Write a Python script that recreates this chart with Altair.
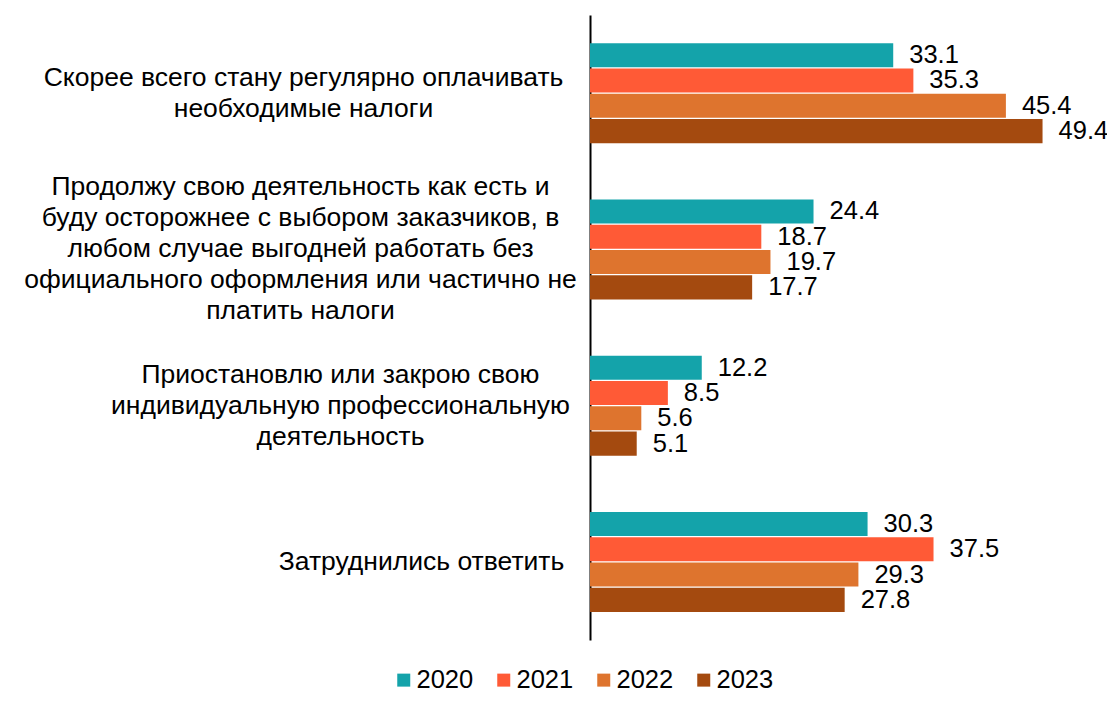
import altair as alt
import pandas as pd

categories = [
    "Скорее всего стану регулярно оплачивать|необходимые налоги",
    "Продолжу свою деятельность как есть и|буду осторожнее с выбором заказчиков, в|любом случае выгодней работать без|официального оформления или частично не|платить налоги",
    "Приостановлю или закрою свою|индивидуальную профессиональную|деятельность",
    "Затруднились ответить",
]
years = ["2020", "2021", "2022", "2023"]
v2020 = [33.1, 24.4, 12.2, 30.3]
v2021 = [35.3, 18.7, 8.5, 37.5]
v2022 = [45.4, 19.7, 5.6, 29.3]
v2023 = [49.4, 17.7, 5.1, 27.8]
colors = ["#14A3AA", "#FF5A36", "#DE742E", "#A44A0F"]

series = [v2020, v2021, v2022, v2023]
rows = []
for ci, cat in enumerate(categories):
    for yi, yr in enumerate(years):
        rows.append({"cat": cat, "year": yr, "value": series[yi][ci]})
df = pd.DataFrame(rows)

FONT = "Liberation Sans"
LBL = 26.5
NUM = 25.5

y_enc = alt.Y(
    "cat:N",
    sort=categories,
    scale=alt.Scale(paddingInner=0.36, paddingOuter=0.18),
    axis=alt.Axis(
        title=None,
        ticks=False,
        tickSize=0,
        domainColor="#000000",
        domainWidth=2,
        labelExpr="split(datum.label, '|')",
        labelAlign="center",
        labelBaseline="middle",
        labelFont=FONT,
        labelFontSize=LBL,
        labelColor="#000000",
        labelLineHeight=31,
        labelLimit=0,
        labelPadding={
            "condition": [
                {"test": "indexof(datum.value, 'Затрудн') == 0", "value": 169},
                {"test": "indexof(datum.value, 'Приостан') == 0", "value": 250},
                {"test": "indexof(datum.value, 'Продолжу') == 0", "value": 290},
            ],
            "value": 287,
        },
        labelOffset={
            "condition": [
                {"test": "indexof(datum.value, 'Затрудн') == 0", "value": 0},
                {"test": "indexof(datum.value, 'Приостан') == 0", "value": -31},
                {"test": "indexof(datum.value, 'Продолжу') == 0", "value": -62},
            ],
            "value": -15.5,
        },
    ),
)

x_enc = alt.X("value:Q", scale=alt.Scale(domain=[0, 56]), axis=None)

base = alt.Chart(df).encode(
    y=y_enc,
    yOffset=alt.YOffset("year:N", sort=years, scale=alt.Scale(paddingInner=0.04, paddingOuter=0)),
    x=x_enc,
)

bars = base.mark_bar().encode(
    color=alt.Color(
        "year:N",
        scale=alt.Scale(domain=years, range=colors),
        legend=alt.Legend(
            title=None,
            orient="none",
            direction="horizontal",
            legendX=-199,
            legendY=652,
            symbolType="square",
            symbolSize=169,
            symbolStrokeWidth=0,
            labelFont=FONT,
            labelFontSize=NUM,
            labelColor="#000000",
            labelOffset=0,
            columnPadding=17,
        ),
    )
)

labels = base.mark_text(
    align="left", baseline="middle", dx=16, font=FONT, fontSize=NUM, color="#000000"
).encode(text=alt.Text("value:Q", format=".1f"))

chart = (
    alt.layer(bars, labels)
    .properties(
        width=513,
        height=625,
        autosize=alt.AutoSizeParams(type="none"),
        padding={"left": 582, "top": 7, "right": 4, "bottom": 54},
    )
    .configure(background="#ffffff")
    .configure_view(strokeWidth=0, stroke="transparent")
)

chart.save("out.html", embed_options={"renderer": "svg", "actions": False})
